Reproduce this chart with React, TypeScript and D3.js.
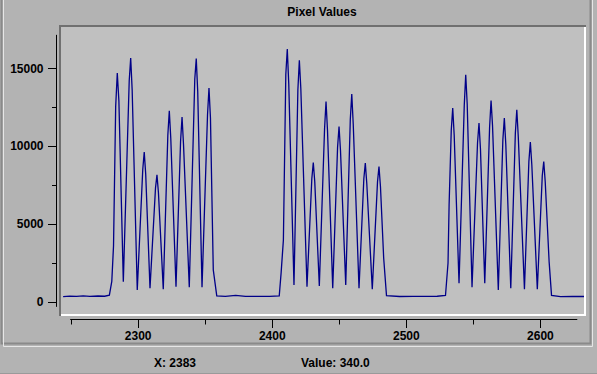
import * as d3 from "d3";

// profile samples: position along the line, pixel value
// (one row per peak: rising shoulder, top, falling shoulder, valley)
const profileX = [
  2244, 2249, 2254, 2259, 2264, 2270, 2275, 2278.5, 2280.3, 2281.6,
  2283.2, 2284.4, 2285.6, 2288.9,
  2293.3, 2294.4, 2295.5, 2299.3,
  2303.4, 2304.5, 2305.6, 2308.8,
  2312.9, 2314.0, 2315.1, 2318.7,
  2322.1, 2323.2, 2324.3, 2328.2,
  2331.6, 2332.7, 2333.8, 2338.1,
  2342.2, 2343.3, 2344.4, 2347.6,
  2351.7, 2352.8, 2353.9, 2356.0,
  2358.6, 2365, 2372.7, 2380, 2390, 2398, 2405.2, 2406.6, 2408.3,
  2410.1, 2411.2, 2412.3, 2416.2,
  2419.1, 2420.2, 2421.3, 2425.9,
  2429.5, 2430.6, 2431.7, 2435.1,
  2439.0, 2440.1, 2441.2, 2445.1,
  2448.7, 2449.8, 2450.9, 2454.8,
  2458.2, 2459.3, 2460.4, 2464.7,
  2468.3, 2469.4, 2470.5, 2474.6,
  2478.5, 2479.6, 2480.7, 2483.1,
  2485.2, 2495, 2505, 2515, 2523, 2529.2, 2531.1, 2531.9,
  2533.5, 2534.6, 2535.7, 2539.3,
  2543.2, 2544.3, 2545.4, 2549.0,
  2553.1, 2554.2, 2555.3, 2558.5,
  2562.1, 2563.2, 2564.3, 2568.6,
  2572.0, 2573.1, 2574.2, 2577.9,
  2581.3, 2582.4, 2583.5, 2588.1,
  2591.4, 2592.5, 2593.6, 2597.7,
  2601.4, 2602.5, 2603.6, 2606.5,
  2608.3, 2615, 2624, 2633,
];
const profileValue = [
  330, 360, 345, 370, 345, 365, 350, 420, 1300, 3600,
  12550, 14700, 12900, 1290,
  14200, 15660, 13600, 750,
  8500, 9610, 8200, 860,
  7300, 8150, 7000, 800,
  10700, 12270, 10500, 965,
  10300, 11870, 10100, 925,
  14300, 15620, 13500, 925,
  12000, 13730, 11800, 2040,
  380, 340, 400, 340, 345, 340, 380, 1850, 3970,
  14600, 16240, 14000, 1075,
  13600, 15510, 13700, 965,
  7900, 8945, 7700, 1010,
  11100, 12870, 11000, 860,
  9900, 11260, 9700, 1075,
  11700, 13345, 11400, 860,
  7900, 8905, 7600, 800,
  7700, 8690, 7400, 2810,
  390, 335, 345, 340, 350, 400, 2490, 6220,
  11000, 12440, 10700, 1180,
  12600, 14590, 12700, 925,
  10200, 11480, 9800, 1180,
  11200, 12935, 11300, 750,
  10400, 11800, 10100, 860,
  10800, 12335, 10600, 800,
  9000, 10255, 8800, 800,
  8100, 9010, 7700, 2575,
  410, 330, 335, 335,
];

const yMajor = [0, 5000, 10000, 15000];
const yMinor = [2500, 7500, 12500];
const xMajor = [2300, 2400, 2500, 2600];
const xMinor = [2250, 2350, 2450, 2550];

const title = "Pixel Values";
const cursorX = 2383;
const cursorValue = 340.0;

const W = 597;
const H = 374;
const panelGray = "#b3b3b3";
const plotGray = "#c0c0c0";
const darkEdge = "#707070";
const font = "'Liberation Sans', Arial, Helvetica, sans-serif";

export default function App() {
  const x = d3.scaleLinear().domain([2300, 2600]).range([138.2, 540.4]);
  const y = d3.scaleLinear().domain([0, 15000]).range([301.7, 68.3]);

  const box = { left: 61, top: 27, right: 584, bottom: 314 };
  const yAxisX = 56.5;
  const xAxisY = 319.5;

  const line = d3
    .line<number>()
    .x((_, i) => x(profileX[i]))
    .y((v) => y(v));

  return (
    <svg
      width={W}
      height={H}
      style={{ position: "absolute", left: 0, top: 0, display: "block" }}
      fontFamily={font}
      fontWeight="bold"
      fontSize={12}
    >
      <rect x={0} y={0} width={W} height={H} fill={panelGray} />

      {/* etched panel frame */}
      <path d={`M1.5,0 V343.5 H590.5 V0`} fill="none" stroke="#8a8a8a" strokeWidth={2} />
      <path d={`M3.5,0 V346.5 H592.5 V0`} fill="none" stroke="#e6e6e6" strokeWidth={1} />
      <line x1={0} x2={W} y1={373.5} y2={373.5} stroke="#9a9a9a" />

      <text x={322} y={15.5} textAnchor="middle" fill="#000">
        {title}
      </text>

      {/* sunken plot box */}
      <rect
        x={box.left}
        y={box.top}
        width={box.right - box.left}
        height={box.bottom - box.top}
        fill={plotGray}
      />
      <path
        d={`M${box.left - 1},${box.bottom + 2} V${box.top - 1} H${box.right + 2}`}
        fill="none"
        stroke={darkEdge}
        strokeWidth={2}
      />
      <path
        d={`M${box.left},${box.bottom + 1} H${box.right + 1} V${box.top}`}
        fill="none"
        stroke="#ffffff"
        strokeWidth={2}
      />

      <defs>
        <clipPath id="plotClip">
          <rect
            x={box.left}
            y={box.top}
            width={box.right - box.left}
            height={box.bottom - box.top}
          />
        </clipPath>
      </defs>
      <path
        d={line(profileValue) ?? ""}
        fill="none"
        stroke="#000088"
        strokeWidth={1.3}
        strokeLinejoin="miter"
        clipPath="url(#plotClip)"
      />

      {/* y axis */}
      <g stroke="#000" strokeWidth={1}>
        <line x1={yAxisX} x2={yAxisX} y1={y(17150)} y2={y(-330)} />
        {yMajor.map((t) => (
          <line key={t} x1={48} x2={yAxisX} y1={Math.round(y(t)) + 0.5} y2={Math.round(y(t)) + 0.5} />
        ))}
        {yMinor.map((t) => (
          <line key={t} x1={52} x2={yAxisX} y1={Math.round(y(t)) + 0.5} y2={Math.round(y(t)) + 0.5} />
        ))}
      </g>
      {yMajor.map((t) => (
        <text key={t} x={43.5} y={y(t) + 4.3} textAnchor="end" fill="#000">
          {t}
        </text>
      ))}

      {/* x axis */}
      <g stroke="#000" strokeWidth={1}>
        <line x1={x(2250) - 1} x2={x(2627.5)} y1={xAxisY} y2={xAxisY} />
        {xMajor.map((t) => (
          <line key={t} x1={Math.round(x(t)) + 0.5} x2={Math.round(x(t)) + 0.5} y1={xAxisY} y2={328} />
        ))}
        {xMinor.map((t) => (
          <line key={t} x1={Math.round(x(t)) + 0.5} x2={Math.round(x(t)) + 0.5} y1={xAxisY} y2={324.5} />
        ))}
      </g>
      {xMajor.map((t) => (
        <text key={t} x={x(t)} y={340} textAnchor="middle" fill="#000">
          {t}
        </text>
      ))}

      {/* status line */}
      <text x={154} y={366.5} fill="#000">{`X: ${cursorX}`}</text>
      <text x={301} y={366.5} fill="#000">{`Value: ${cursorValue.toFixed(1)}`}</text>
    </svg>
  );
}
